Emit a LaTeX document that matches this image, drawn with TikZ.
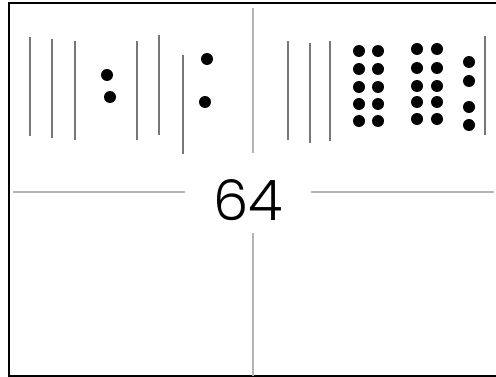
\documentclass[tikz,border=0pt]{standalone}
\usepackage{fontspec}
\setmainfont{Poppins}[UprightFont=* Light]
\usepackage{xcolor}
\definecolor{TallyGray}{HTML}{777777}
\definecolor{RuleGray}{HTML}{B4B4B4}
\usepackage{tikz}

\begin{document}
\begin{tikzpicture}[x=1pt,y=-1pt]
\tikzset{
  tally/.style={draw=TallyGray,line width=1.3pt},
  rule/.style={draw=RuleGray,line width=1.2pt},
  frame/.style={draw=black,line width=2.2pt},
  bead/.style={fill=black}
}
\useasboundingbox (0,0) rectangle (496,377);
% frame, open on the right
\draw[frame] (500,3) -- (9,3) -- (9,376) -- (500,376);

% quadrant rules, broken round the number
\draw[rule] (253,8) -- (253,153);
\draw[rule] (253,233) -- (253,376);
\draw[rule] (13,192) -- (185,192);
\draw[rule] (311,192) -- (494,192);
\node[font=\fontsize{56}{60}\selectfont,inner sep=0pt] (num) at (248,200) {64};

% upper left: tallies and beads
\draw[tally] (30,37) -- (30,136);
\draw[tally] (52,39) -- (52,138);
\draw[tally] (75,41) -- (75,140);
\fill[bead] (107,75) circle (6);
\fill[bead] (110,97) circle (6);
\draw[tally] (137,41) -- (137,140);
\draw[tally] (159,35) -- (159,135);
\draw[tally] (183,55) -- (183,154);
\fill[bead] (207,59) circle (6);
\fill[bead] (205,102) circle (6);

% upper right: tallies and bead columns
\draw[tally] (288,41) -- (288,140);
\draw[tally] (310,43) -- (310,143);
\draw[tally] (330,41) -- (330,141);
\foreach \y in {51,69,87,104,121} {
  \fill[bead] (359,\y) circle (6);
  \fill[bead] (378,\y) circle (6);
}
\foreach \y in {49,68,86,102,119} {
  \fill[bead] (417,\y) circle (6);
  \fill[bead] (437,\y) circle (6);
}
\foreach \y in {62,81,107,125}
  \fill[bead] (469,\y) circle (6);
\draw[tally] (485,36) -- (485,135);
\end{tikzpicture}
\end{document}
